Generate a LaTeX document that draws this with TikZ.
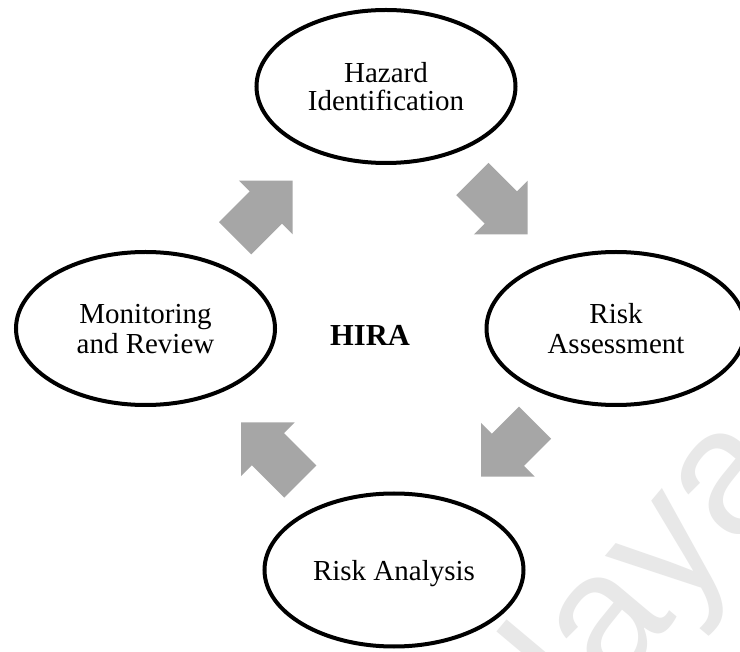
\documentclass[tikz,border=0pt]{standalone}
\usepackage{fontspec}
\setmainfont{Liberation Serif}
\newfontfamily\wmfont{Liberation Sans}
\usetikzlibrary{shapes.geometric}

\definecolor{arrowgray}{RGB}{166,166,166}
\definecolor{wmgray}{RGB}{232,232,232}

\tikzset{
  stage/.style={ellipse, draw=black, line width=4pt, fill=none,
    minimum width=259pt, minimum height=153pt, inner sep=0pt,
    align=center, text depth=0pt},
  stagefont/.style={font=\fontsize{29}{#1}\selectfont},
  % block arrow pointing along +x with its tip at the origin; #1 = total length
  pics/flowarrow/.style={code={
    \fill[arrowgray] (0,0) -- (-38,38) -- (-38,22.75) -- (-#1,22.75)
      -- (-#1,-22.75) -- (-38,-22.75) -- (-38,-38) -- cycle;
  }}
}

\begin{document}
\begin{tikzpicture}[x=1pt,y=-1pt]
  \useasboundingbox (0,0) rectangle (740,652);
  \clip (0,0) rectangle (740,652);
  \fill[white] (0,0) rectangle (740,652);

  % watermark
  \node[wmgray, anchor=base west, inner sep=0pt, rotate=50,
        font=\wmfont\fontsize{179}{179}\selectfont] (mark) at (428.5,915) {Malaya};

  % the four stages of the cycle
  \node[stage, stagefont=28] (hazard) at (386,86.5) {Hazard\\Identification};
  \node[stage, stagefont=30.5] (assess) at (616,328.5) {Risk\\Assessment};
  \node[stage, stagefont=30] (analysis) at (394,570) {Risk Analysis};
  \node[stage, stagefont=30] (monitor) at (145.5,328.5) {Monitoring\\and Review};

  % centre label
  \node[anchor=base, inner sep=0pt, font=\bfseries\fontsize{30.5}{30.5}\selectfont]
    (hira) at (370,346) {HIRA};

  % arrows running clockwise between the stages
  \pic[rotate=45]   at (292.7,180.7) {flowarrow=81.4};
  \pic[rotate=-45]  at (527.7,234.3) {flowarrow=78.3};
  \pic[rotate=-135] at (481,476.7)   {flowarrow=76.5};
  \pic[rotate=135]  at (241,422.3)   {flowarrow=83.9};
\end{tikzpicture}
\end{document}
